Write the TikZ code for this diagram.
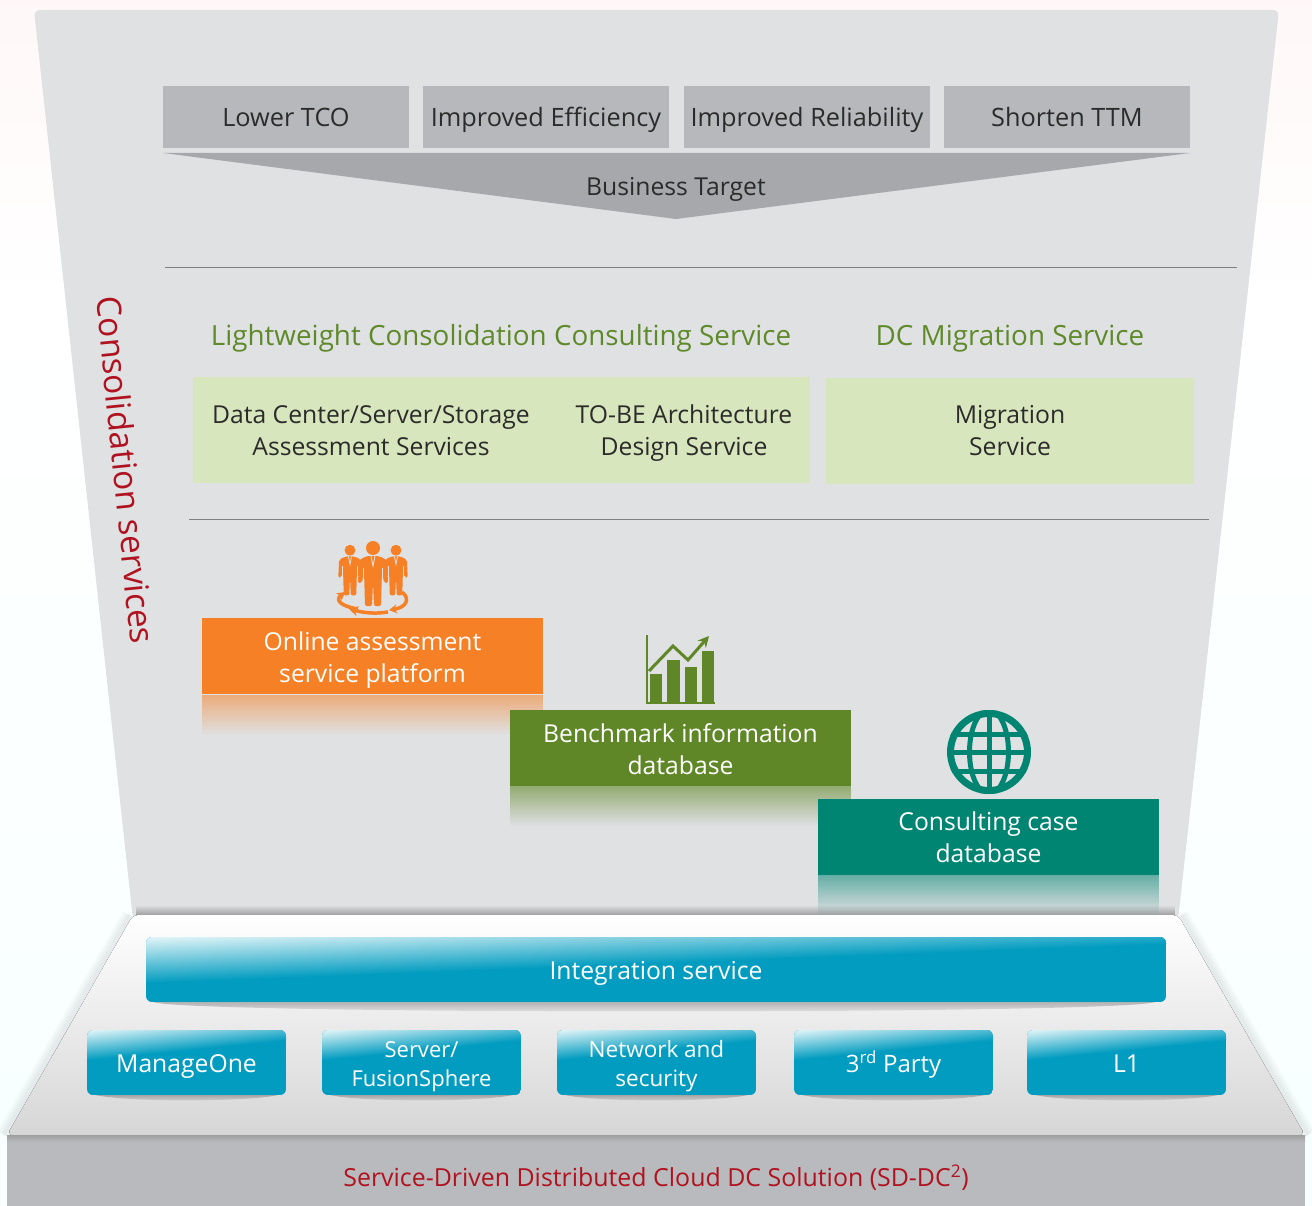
\documentclass[tikz,border=0pt]{standalone}
\usepackage{fontspec}
\setmainfont{Open Sans}
\usetikzlibrary{positioning,fadings,arrows.meta}
\definecolor{funnelgray}{HTML}{E0E1E3}
\definecolor{targetgray}{HTML}{B7B8BC}
\definecolor{arrowgray}{HTML}{A7A8AC}
\definecolor{basegray}{HTML}{B9BABD}
\definecolor{palegreen}{HTML}{D8E6BD}
\definecolor{headgreen}{HTML}{5E8A2A}
\definecolor{assessorange}{HTML}{F58025}
\definecolor{benchgreen}{HTML}{5F8727}
\definecolor{caseteal}{HTML}{008573}
\definecolor{glossblue}{HTML}{029CC0}
\definecolor{glossmid}{HTML}{7CCBDC}
\definecolor{glosstop}{HTML}{E2F5F8}
\definecolor{solred}{HTML}{B0121F}
\definecolor{inktext}{HTML}{2B2B2B}
\tikzset{
	every node/.style={inner sep=0pt,align=center,text=inktext,font=\fontsize{24.7}{32}\selectfont},
	targetbox/.style={fill=targetgray,minimum width=246,minimum height=62,text height=20,text depth=0,font=\fontsize{25.3}{32}\selectfont},
	servicebox/.style={fill=palegreen,minimum height=106},
	headtext/.style={text=headgreen,font=\fontsize{27.8}{32}\selectfont},
	stepbox/.style={minimum width=341,minimum height=76,text=white},
	btnlabel/.style={text=white},
}
\begin{document}
\begin{tikzpicture}[x=1pt,y=-1pt]
		\useasboundingbox (0,0) rectangle (1312,1206);
		\fill[top color=red!3,bottom color=white](0,0) rectangle (1312,300);
		\fill[top color=white,bottom color=cyan!3](0,300) rectangle (1312,1206);
		\fill[funnelgray,rounded corners=6](34,10)--(1279,10)--(1178,920)--(133,920)--cycle;
		\foreach \x/\nm/\txt in{286/tco/Lower TCO,546/efficiency/Improved Efficiency,807/reliability/Improved Reliability,1067/ttm/Shorten TTM}{
			\node[targetbox] (\nm) at (\x,117) {\txt};
		}
		\fill[arrowgray](163,153)--(1190,153)--(676,219)--cycle;
		\node (target) at (676,189) {Business Target};
		\draw[gray](165,267)--(1237,267);
		\draw[gray](189,519)--(1209,519);
		\node[headtext] (lightweight) at (501,338) {Lightweight Consolidation Consulting Service};
		\node[headtext] (migrationhead) at (1010,339) {DC Migration Service};
		\node[servicebox,minimum width=617] (consulting) at (501.5,430) {};
		\node[servicebox,minimum width=368] (migration) at (1010,431) {Migration\\Service};
		\node (assess) at (371,431) {Data Center/Server/Storage\\Assessment Services};
		\node (tobe) at (684,433) {TO-BE Architecture\\Design Service};
		\node[stepbox,fill=assessorange] (online) at (372.5,656) {};
		\fill[assessorange,opacity=.55,path fading=south](202,695) rectangle (543,735);
		\node[stepbox,fill=benchgreen] (bench) at (680.5,748) {};
		\fill[benchgreen,opacity=.6,path fading=south](510,786) rectangle (851,826);
		\node[stepbox,fill=caseteal] (case) at (988.5,837) {};
		\fill[caseteal,opacity=.55,path fading=south](818,875) rectangle (1159,915);
		\node[text=white] (onlinetext) at (372.5,660) {Online assessment\\service platform};
		\node[text=white] (benchtext) at (680.5,749) {Benchmark information\\database};
		\node[text=white] (casetext) at (988.5,837) {Consulting case\\database};
		\fill[black,opacity=.35,path fading=north](136,905) rectangle (1175,917);
		\foreach \x/\y/\s in{350/544/.78,396/544/.78,373/540/1}{
			\begin{scope}[shift={(\x,\y)},scale=\s]
				\fill[assessorange](0,8) circle (7);
				\fill[assessorange,rounded corners=2](-6,16)--(6,16)--(14,20)--(15,43)--(11,43)--(9,30)--(8,66)--(1,66)--(0,42)--(-1,66)--(-8,66)--(-9,30)--(-11,43)--(-15,43)--(-14,20)--cycle;
				\draw[funnelgray,line width=.8](-9.5,28)--(-9.5,38);
				\draw[funnelgray,line width=.8](9.5,28)--(9.5,38);
				\draw[funnelgray,line width=.8](-2,16)--(0,26)--(2,16);
			\end{scope}
		}
		\draw[assessorange,line width=3.5,-{Stealth[length=8,width=9]}](358,609) .. controls (340,606) and (335,600) .. (345,592);
		\draw[assessorange,line width=3.5,-{Stealth[length=8,width=9]}](402,592) .. controls (412,600) and (404,608) .. (389,610);
		\draw[assessorange,line width=3.5,-{Stealth[length=9,width=10]}](388,612) .. controls (375,614) and (365,613) .. (349,609);
		\draw[benchgreen,line width=1.5](647,635)--(647,703)--(715,703);
		\foreach \xa/\xb/\ya in{650/662/674,667/680/660,685/697/667,702/714/651}{
			\fill[benchgreen](\xa,\ya) rectangle (\xb,703);
		}
		\draw[benchgreen,line width=3,-{Stealth[length=11,width=11]}](649,671)--(673,646)--(688,660)--(709,636);
		\begin{scope}
			\clip (989,752) circle (42);
			\draw[caseteal,line width=5](989,752) ellipse (19.5 and 42);
			\foreach \y in{734,752,771}{
				\draw[caseteal,line width=5](940,\y)--(1040,\y);
			}
			\draw[caseteal,line width=5](989,705)--(989,800);
		\end{scope}
		\draw[caseteal,line width=7](989,752) circle (38.5);
		\node[rotate=-84.3,text=solred,font=\fontsize{33.5}{36}\selectfont] (consolidation) at (126,470) {Consolidation services};
		\foreach \w in{4,8,12,16}{
			\draw[black,opacity=.02,line width=\w](130,915)--(4,1135);
			\draw[black,opacity=.02,line width=\w](1181,915)--(1308,1135);
		}
		\fill[top color=white,bottom color=black!16,rounded corners=5](133,915)--(1178,915)--(1305,1135)--(7,1135)--cycle;
		\fill[basegray](7,1135) rectangle (1305,1206);
		\fill[top color=black!38,bottom color=basegray](7,1135) rectangle (1305,1142);
		\node[text=solred,font=\fontsize{24.9}{32}\selectfont] (solution) at (656,1178) {Service-Driven Distributed Cloud DC Solution (SD-DC\textsuperscript{2})};
		\foreach \nm/\xa/\xb/\ya/\yb/\lip/\ang/\gh/\dy/\fs/\txt in{integration/146/1166/937/1002/14/2.2/46/4/24.7/Integration service,manageone/87/286/1030/1095/8/5.7/30/4/24.7/ManageOne,fusion/322/521/1030/1095/8/5.7/30/4/22/{Server/\\FusionSphere},network/557/756/1030/1095/8/5.7/30/4/22.5/{Network and\\security},party/794/993/1030/1095/8/5.7/30/2/24/3\textsuperscript{rd} Party,lone/1027/1226/1030/1095/8/5.7/30/1/24.7/L1}{
			\fill[black,opacity=.25,path fading=south](\xa+8,\yb) .. controls (\xa+40,\yb+\lip*.9) and (\xb-40,\yb+\lip*.9) .. (\xb-8,\yb)--cycle;
			\begin{scope}
				\clip[rounded corners=6](\xa,\ya) rectangle (\xb,\yb);
				\fill[glossblue](\xa,\ya) rectangle (\xb,\yb);
				\shade[transform canvas={rotate around={\ang:(\xa,\ya)}},top color=glosstop,middle color=glossmid,bottom color=glossblue](\xa-20,\ya) rectangle (\xb+20,\ya+\gh);
			\end{scope}
			\node[btnlabel,font=\fontsize{\fs}{29}\selectfont] (\nm) at ({(\xa+\xb)/2},{(\ya+\yb)/2+\dy}) {\txt};
		}
	\end{tikzpicture}
\end{document}
